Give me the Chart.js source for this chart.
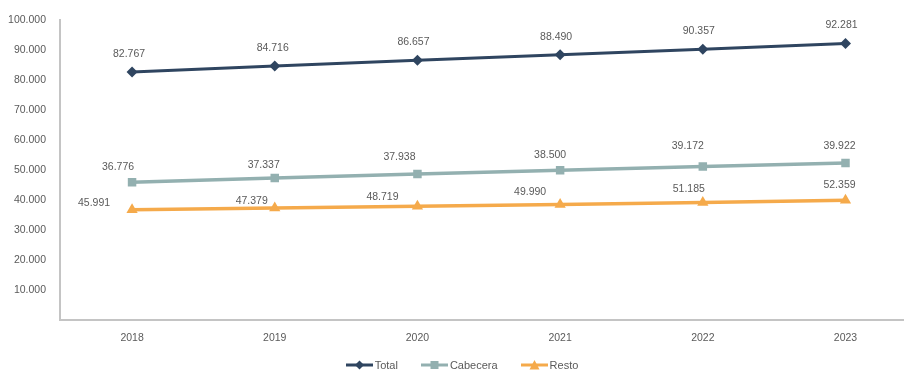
<!DOCTYPE html>
<html>
<head>
<meta charset="utf-8">
<script src="https://cdn.jsdelivr.net/npm/chart.js@4/dist/chart.umd.min.js"></script>
<style>
  html, body { margin: 0; padding: 0; background: #fff; }
  #wrap { width: 904px; height: 372px; position: relative; }
  #legend {
    position: absolute; left: 20px; right: 0; top: 357px; height: 16px;
    display: flex; justify-content: center; align-items: center; gap: 23px;
    font: 11px 'Liberation Sans', Arial, Helvetica, sans-serif; color: #5a5a5a;
  }
  #legend .item { display: flex; align-items: center; }
  #legend canvas { display: block; margin-right: 2px; }
</style>
</head>
<body>
<div id="wrap"><canvas id="c"></canvas><div id="legend"></div></div>
<script>
/* Población por área: Total, Cabecera y Resto, 2018–2023 */
const years = [2018, 2019, 2020, 2021, 2022, 2023];
const total = [82767, 84716, 86657, 88490, 90357, 92281];
const cabecera = [45991, 47379, 48719, 49990, 51185, 52359];
const resto = [36776, 37337, 37938, 38500, 39172, 39922];
const yTicks = [0, 10000, 20000, 30000, 40000, 50000, 60000, 70000, 80000, 90000, 100000];

const FONT = "'Liberation Sans', Arial, Helvetica, sans-serif";
const TXT = "#5a5a5a";
const NAVY = "#2f4560", TEAL = "#93b0b0", ORANGE = "#f5aa4b";

const fmt = (n) => String(n).replace(/\B(?=(\d{3})+(?!\d))/g, ".");

// "line + marker" legend symbol
function swatch(color, style) {
  const c = document.createElement("canvas");
  c.width = 27; c.height = 12;
  const g = c.getContext("2d");
  g.strokeStyle = color; g.fillStyle = color; g.lineWidth = 3;
  g.beginPath(); g.moveTo(0, 6); g.lineTo(27, 6); g.stroke();
  g.beginPath();
  if (style === "rectRot") { g.moveTo(13.5, 1.5); g.lineTo(18, 6); g.lineTo(13.5, 10.5); g.lineTo(9, 6); }
  else if (style === "rect") { g.rect(9.5, 2, 8, 8); }
  else { g.moveTo(13.5, 1); g.lineTo(18.5, 10.5); g.lineTo(8.5, 10.5); }
  g.closePath(); g.fill();
  return c;
}

// value labels; each series can hang its labels off another series' points
const valueLabels = {
  id: "valueLabels",
  afterDatasetsDraw(chart, args, opts) {
    const ctx = chart.ctx;
    ctx.save();
    ctx.font = "10.5px " + FONT;
    ctx.fillStyle = TXT;
    ctx.textAlign = "center";
    ctx.textBaseline = "middle";
    opts.items.forEach((it) => {
      const ds = chart.data.datasets[it.source];
      const anchor = chart.getDatasetMeta(it.anchor).data;
      ds.data.forEach((v, j) => {
        const p = anchor[j];
        const off = it.offsets[j];
        ctx.fillText(fmt(v.y), p.x + off[0], p.y + off[1]);
      });
    });
    ctx.restore();
  },
};

const pts = (arr) => arr.map((v, i) => ({ x: years[i], y: v }));

const chart = new Chart(document.getElementById("c"), {
  type: "line",
  data: {
    datasets: [
      { label: "Total", data: pts(total), borderColor: NAVY, backgroundColor: NAVY, borderWidth: 3,
        pointStyle: "rectRot", pointRadius: 5.5, pointBorderWidth: 0 },
      { label: "Cabecera", data: pts(cabecera), borderColor: TEAL, backgroundColor: TEAL, borderWidth: 3.5,
        pointStyle: "rect", pointRadius: 6, pointBorderWidth: 0 },
      { label: "Resto", data: pts(resto), borderColor: ORANGE, backgroundColor: ORANGE, borderWidth: 3.5,
        pointStyle: "triangle", pointRadius: 6.5, pointBorderWidth: 0 },
    ],
  },
  plugins: [valueLabels],
  options: {
    responsive: true, maintainAspectRatio: false, animation: false,
    layout: { autoPadding: false, padding: { top: 20, right: 0, left: 0, bottom: 22 } },
    scales: {
      x: {
        type: "linear", min: 2017.495, max: 2023.41,
        afterBuildTicks: (s) => { s.ticks = years.map((v) => ({ value: v })); },
        afterFit: (s) => { s.height = 30; },
        grid: { display: false, drawTicks: false },
        border: { display: true, color: "#c4c4c4", width: 2 },
        ticks: { padding: 12, color: TXT, font: { family: FONT, size: 10.5 }, callback: (v) => String(v) },
      },
      y: {
        min: 0, max: 100000,
        afterBuildTicks: (s) => { s.ticks = yTicks.map((v) => ({ value: v })); },
        afterFit: (s) => { s.width = 60; },
        grid: { display: false, drawTicks: false },
        border: { display: true, color: "#c4c4c4", width: 2 },
        ticks: { padding: 14, color: TXT, font: { family: FONT, size: 10.5 }, callback: (v) => (v === 0 ? "" : fmt(v)) },
      },
    },
    plugins: {
      legend: { display: false },
      tooltip: { enabled: false },
      valueLabels: {
        items: [
          { source: 0, anchor: 0, offsets: [[-3, -18], [-2, -18], [-4, -18], [-4, -18], [-4, -18], [-4, -18]] },
          { source: 2, anchor: 1, offsets: [[-14, -15], [-11, -13], [-18, -17], [-10, -15], [-15, -20], [-6, -17]] },
          { source: 1, anchor: 2, offsets: [[-38, -7], [-23, -7], [-35, -9], [-30, -13], [-14, -13], [-6, -15]] },
        ],
      },
    },
  },
});

// legend built from the chart's own datasets
const legend = document.getElementById("legend");
chart.data.datasets.forEach((d) => {
  const item = document.createElement("span");
  item.className = "item";
  item.appendChild(swatch(d.borderColor, d.pointStyle));
  const t = document.createElement("span");
  t.textContent = d.label;
  item.appendChild(t);
  legend.appendChild(item);
});
</script>
</body>
</html>
